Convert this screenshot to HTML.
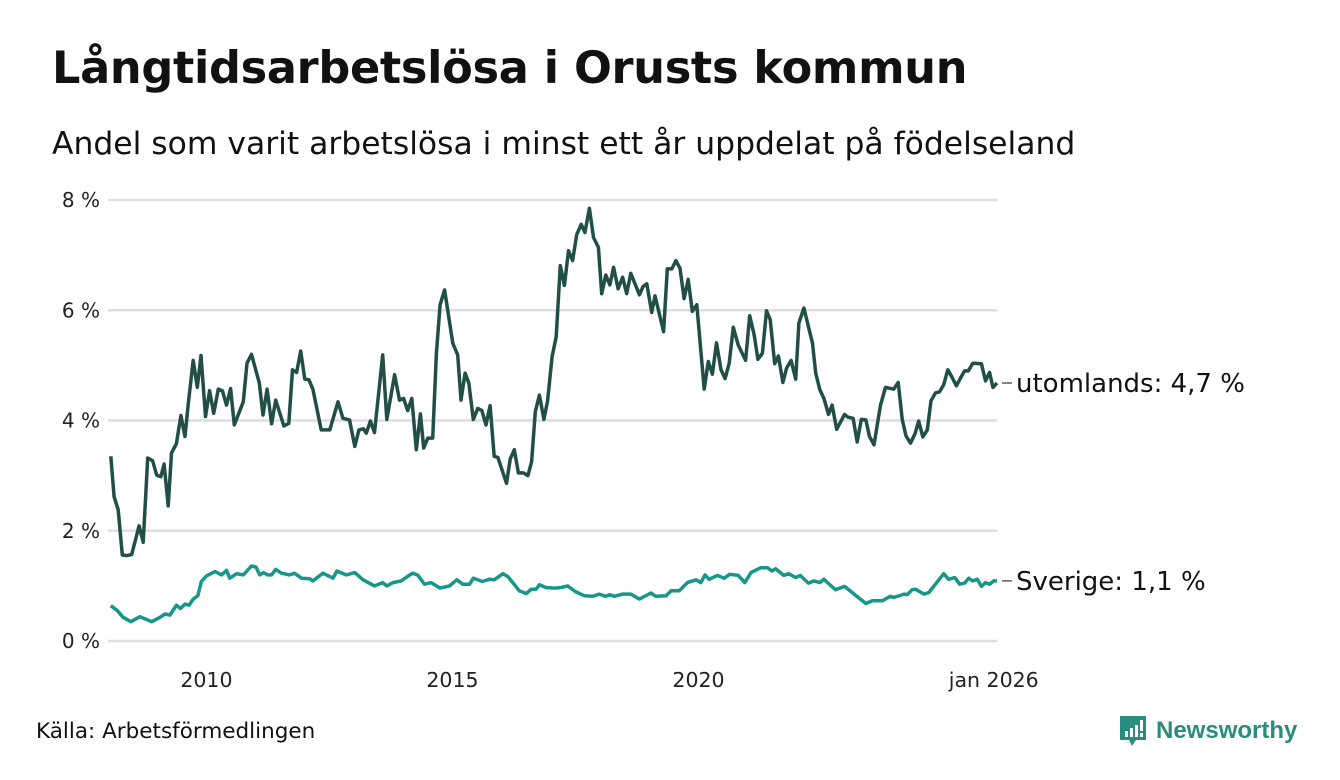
<!DOCTYPE html>
<html><head><meta charset="utf-8">
<style>
body{margin:0;background:#fff;font-family:"DejaVu Sans","Liberation Sans",sans-serif;}
#wrap{position:relative;width:1340px;height:780px;overflow:hidden;background:#fff;}
h1{position:absolute;left:52px;top:42px;margin:0;font-size:44.6px;font-weight:bold;color:#111;letter-spacing:-0.3px;white-space:nowrap;}
.sub{position:absolute;left:52px;top:126px;font-size:31.4px;color:#111;white-space:nowrap;}
.src{position:absolute;left:36px;top:719px;font-size:21.5px;color:#111;}
.logo{position:absolute;left:1118px;top:714px;display:flex;align-items:center;color:#2a8c7f;font-family:"Liberation Sans",sans-serif;font-weight:bold;font-size:24px;}
</style></head><body>
<div id="wrap">
<h1>Långtidsarbetslösa i Orusts kommun</h1>
<div class="sub">Andel som varit arbetslösa i minst ett år uppdelat på födelseland</div>
<svg id="chart" width="1340" height="780" style="position:absolute;left:0;top:0"></svg>
<div class="src">Källa: Arbetsförmedlingen</div>
<div class="logo">
<svg width="30" height="34" viewBox="0 0 30 34"><path d="M2 2h26v24h-10l-4 6-3-6H2z" fill="#2a8c7f"/><rect x="7" y="17" width="3" height="6" fill="#fff"/><rect x="12" y="14" width="3" height="9" fill="#fff"/><rect x="17" y="11" width="3" height="12" fill="#fff"/><rect x="22" y="6" width="3" height="11" fill="#fff"/><rect x="22" y="19" width="3" height="4" fill="#fff"/></svg>
<span style="margin-left:8px">Newsworthy</span></div>
</div>
<script>
const yTicks=[0,2,4,6,8];
const xTickMonths=[24,84,144,216];
const xTickLabels=["2010","2015","2020","jan 2026"];
const utoMonths=[0.2,1.0,2.0,3.0,4.1,5.3,7.1,8.1,9.2,10.4,11.4,12.4,13.2,14.2,15.0,16.2,17.3,18.3,19.1,20.3,21.3,22.2,23.3,24.3,25.3,26.4,27.4,28.4,29.4,30.3,32.5,33.4,34.5,36.4,37.3,38.3,39.4,40.4,42.4,43.6,44.5,45.5,46.5,47.5,48.5,49.5,51.5,53.6,55.6,56.8,58.4,59.7,60.7,61.8,62.5,63.5,64.5,66.5,67.5,69.4,70.6,71.6,72.6,73.6,74.7,75.7,76.5,77.5,78.7,79.6,80.5,81.6,83.6,84.8,85.6,86.6,87.5,88.6,89.7,90.7,91.7,92.7,93.7,94.6,96.7,97.6,98.6,99.6,100.8,101.9,102.8,103.7,104.7,105.8,106.7,107.8,108.8,109.8,110.8,111.8,112.8,113.8,114.9,115.8,116.9,117.9,119.1,119.9,120.9,121.9,122.8,123.9,125.0,126.0,127.0,129.1,130.0,130.9,132.1,132.9,135.0,135.9,137.0,138.0,139.0,140.0,141.0,142.0,143.1,144.9,145.9,146.9,147.9,149.0,150.0,151.0,152.0,153.2,155.0,156.0,157.1,158.0,159.1,160.1,161.0,162.1,163.0,164.1,165.0,166.1,167.2,168.0,169.2,171.3,172.1,173.1,174.1,175.2,176.1,177.2,179.1,180.0,181.2,182.2,183.2,184.3,185.2,186.3,187.9,189.1,191.1,192.2,193.2,194.1,195.2,196.3,197.2,198.2,199.3,200.2,201.3,202.3,203.3,204.3,205.3,206.4,207.4,208.4,209.3,210.4,212.5,213.5,214.5,215.3,216.3];
const utoValues=[3.35,2.62,2.38,1.56,1.55,1.57,2.09,1.79,3.32,3.27,3.01,2.98,3.21,2.45,3.41,3.58,4.09,3.71,4.31,5.09,4.60,5.18,4.07,4.54,4.13,4.57,4.54,4.28,4.58,3.92,4.34,5.04,5.20,4.68,4.10,4.57,3.94,4.37,3.90,3.95,4.92,4.87,5.26,4.75,4.74,4.56,3.83,3.83,4.34,4.04,4.01,3.53,3.83,3.85,3.77,3.99,3.78,5.19,4.02,4.83,4.37,4.40,4.18,4.40,3.47,4.12,3.50,3.68,3.68,5.22,6.10,6.37,5.40,5.19,4.37,4.86,4.68,4.02,4.22,4.18,3.92,4.27,3.35,3.33,2.86,3.30,3.47,3.05,3.05,3.00,3.25,4.16,4.46,4.02,4.36,5.16,5.52,6.81,6.45,7.08,6.90,7.37,7.56,7.41,7.85,7.32,7.14,6.30,6.64,6.46,6.78,6.39,6.60,6.30,6.67,6.28,6.43,6.48,5.96,6.26,5.61,6.75,6.75,6.90,6.76,6.21,6.56,5.98,6.10,4.57,5.07,4.84,5.41,4.92,4.76,5.04,5.69,5.37,5.09,5.90,5.55,5.11,5.22,5.99,5.83,5.03,5.17,4.69,4.95,5.09,4.75,5.77,6.04,5.40,4.86,4.56,4.40,4.11,4.28,3.84,4.11,4.06,4.04,3.61,4.02,4.01,3.71,3.56,4.28,4.60,4.57,4.69,4.01,3.72,3.59,3.76,3.99,3.70,3.83,4.36,4.50,4.52,4.65,4.92,4.79,4.63,4.77,4.90,4.90,5.04,5.03,4.72,4.87,4.60,4.68];
const sveMonths=[0.2,1.8,3.2,5.1,7.3,10.2,12.2,13.4,14.6,16.2,17.2,18.3,19.3,20.3,21.4,22.3,23.5,25.6,27.2,28.4,29.2,30.9,32.5,34.5,35.6,36.5,37.5,38.4,39.4,40.4,41.8,43.8,45.0,46.7,48.7,49.5,51.9,54.4,55.3,57.6,59.7,61.7,64.5,66.5,67.5,69.0,71.0,73.1,73.9,75.1,76.7,78.3,80.5,82.8,84.6,86.0,87.7,88.6,90.8,92.5,93.7,95.8,97.0,99.8,101.5,102.7,103.9,104.7,106.3,108.4,110.0,111.6,113.6,115.7,117.7,119.3,120.9,121.8,123.0,125.0,127.0,129.1,131.9,133.1,135.6,136.8,138.8,140.8,142.9,144.1,145.1,146.1,148.1,149.8,151.1,153.2,154.8,156.3,158.7,160.3,161.4,162.3,164.3,165.5,167.2,168.3,170.3,171.7,173.1,174.1,176.9,179.1,184.3,185.9,188.3,190.3,191.1,193.6,194.4,195.6,196.4,198.5,199.7,203.3,204.5,206.0,207.2,208.4,209.4,210.4,211.5,212.5,213.5,214.5,215.5,216.3];
const sveValues=[0.64,0.55,0.43,0.35,0.44,0.35,0.43,0.49,0.47,0.65,0.59,0.67,0.65,0.76,0.82,1.08,1.18,1.26,1.20,1.28,1.14,1.22,1.20,1.36,1.34,1.20,1.24,1.20,1.20,1.30,1.23,1.20,1.23,1.14,1.13,1.09,1.23,1.14,1.27,1.20,1.24,1.11,1.00,1.06,1.00,1.06,1.09,1.20,1.23,1.19,1.03,1.06,0.96,1.00,1.11,1.03,1.03,1.14,1.08,1.12,1.11,1.22,1.17,0.91,0.86,0.94,0.94,1.02,0.97,0.96,0.97,1.00,0.89,0.82,0.81,0.85,0.81,0.84,0.81,0.85,0.85,0.76,0.87,0.81,0.82,0.91,0.91,1.06,1.11,1.06,1.20,1.12,1.19,1.14,1.21,1.19,1.06,1.24,1.33,1.33,1.27,1.31,1.19,1.22,1.15,1.19,1.05,1.09,1.06,1.12,0.93,0.99,0.68,0.73,0.73,0.81,0.79,0.85,0.84,0.93,0.94,0.85,0.88,1.22,1.12,1.15,1.03,1.05,1.14,1.09,1.12,0.99,1.06,1.03,1.09,1.09];
const seriesLabels=["utomlands: 4,7 %","Sverige: 1,1 %"];

const NS="http://www.w3.org/2000/svg";
const svg=document.getElementById('chart');
const X0=110,X1=997,M0=0,M1=216.3;
const Y0=641,Y8=200;
function xs(m){return X0+(m-M0)/(M1-M0)*(X1-X0);}
function ys(v){return Y0+(v/8)*(Y8-Y0);}
function mk(tag,attrs){const e=document.createElementNS(NS,tag);for(const k in attrs)e.setAttribute(k,attrs[k]);svg.appendChild(e);return e;}
yTicks.forEach(t=>{
  const g=mk('line',{x1:108,x2:997,y1:ys(t),y2:ys(t),stroke:'#dedde3','stroke-width':2.5});
  
  
  const tx=mk('text',{x:100,y:ys(t)+7,'text-anchor':'end','font-size':20,fill:'#222','font-family':'DejaVu Sans, Liberation Sans, sans-serif'});
  tx.textContent=t+' %';
  
  
});
xTickMonths.forEach((m,i)=>{
  const tx=mk('text',{x:xs(m)-2,y:687,'text-anchor':'middle','font-size':20.5,fill:'#222','font-family':'DejaVu Sans, Liberation Sans, sans-serif'});
  tx.textContent=xTickLabels[i];
  
  
});
function line(ms,vs,color,name){
  const d=ms.map((m,i)=>(i?'L':'M')+xs(m).toFixed(1)+' '+ys(vs[i]).toFixed(1)).join(' ');
  const p=mk('path',{d:d,fill:'none',stroke:color,'stroke-width':3.5,'stroke-linejoin':'round'});
  
  
}
line(sveMonths,sveValues,'#17978a','sverige-line');
line(utoMonths,utoValues,'#214f47','utomlands-line');
function label(ms,vs,text,name){
  const yv=ys(vs[vs.length-1]);
  const x=xs(ms[ms.length-1]);
  const l=mk('line',{x1:x+5,x2:x+15,y1:yv,y2:yv,stroke:'#333','stroke-width':1.2});
  
  
  const t=mk('text',{x:x+19,y:yv+9,'font-size':26,fill:'#111','font-family':'DejaVu Sans, Liberation Sans, sans-serif'});
  t.textContent=text;
  
  
}
label(utoMonths,utoValues,seriesLabels[0],'utomlands-label');
label(sveMonths,sveValues,seriesLabels[1],'sverige-label');
</script>
</body></html>
